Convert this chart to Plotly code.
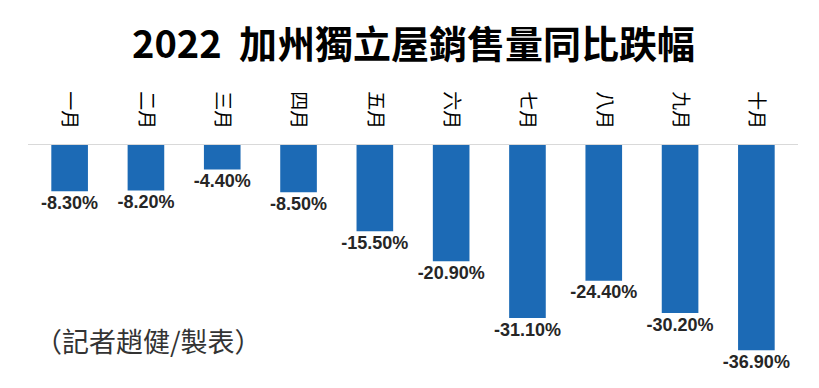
import plotly.graph_objects as go

months = ["一月", "二月", "三月", "四月", "五月", "六月", "七月", "八月", "九月", "十月"]
values = [-8.3, -8.2, -4.4, -8.5, -15.5, -20.9, -31.1, -24.4, -30.2, -36.9]
labels = [f"{v:.2f}%" for v in values]

title_text = "2022  加州獨立屋銷售量同比跌幅"
source_text = "（記者趙健/製表）"

# page has an 8px body margin, so the figure is sized/offset accordingly
W, H = 811, 380
L, R, T, B = 20, 21, 137, 20

fig = go.Figure()
fig.add_trace(go.Bar(
    x=months, y=values,
    marker=dict(color="#1c6ab5", line=dict(width=0)),
    hoverinfo="skip",
))
fig.add_trace(go.Scatter(
    x=months, y=values, text=labels, mode="markers+text", textposition="bottom center",
    marker=dict(size=5, opacity=0),
    textfont=dict(family="Liberation Sans, Arial, sans-serif", size=18, color="#262626", weight="bold"),
    cliponaxis=False, hoverinfo="skip",
))

fig.update_layout(
    width=W, height=H,
    margin=dict(l=L, r=R, t=T, b=B, autoexpand=False),
    paper_bgcolor="white", plot_bgcolor="white",
    bargap=0.52, showlegend=False,
    title=dict(text=f"<b>{title_text}</b>", x=0.5, xanchor="center", y=1 - 37 / H, yanchor="middle",
               font=dict(family="Noto Sans CJK TC, sans-serif", size=38, color="#000000")),
    xaxis=dict(side="top", showline=True, linecolor="#d9d9d9", linewidth=1, showgrid=False,
               tickangle=90, ticks="", ticklabelstandoff=8, automargin=False,
               tickfont=dict(family="Noto Sans CJK TC, sans-serif", size=19, color="#000000")),
    yaxis=dict(range=[-40.1, 0], visible=False, showgrid=False, zeroline=False, automargin=False),
    annotations=[dict(text=source_text, x=(25 - L) / (W - L - R), y=1 - (332 - T) / (H - T - B),
                      xref="paper", yref="paper", showarrow=False,
                      xanchor="left", yanchor="middle",
                      font=dict(family="Noto Sans CJK TC, sans-serif", size=27, color="#333333"))],
)

fig.write_html("out.html")
